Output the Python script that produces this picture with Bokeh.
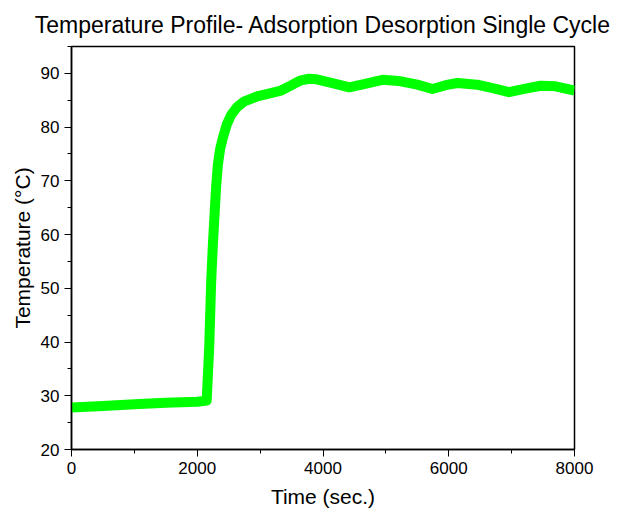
from bokeh.plotting import figure
from bokeh.models import Range1d, FixedTicker
from bokeh.embed import file_html
from bokeh.resources import INLINE

time_s = [0, 500, 1000, 1500, 2000, 2150, 2190, 2222, 2250, 2275, 2300, 2328, 2365, 2407, 2470,
          2540, 2640, 2751, 2950, 3122, 3333, 3450, 3545, 3650, 3778, 3900, 4150, 4418, 4650,
          4947, 5200, 5500, 5741, 5950, 6138, 6450, 6750, 6958, 7200, 7460, 7700, 8000]
temp_c = [27.8, 28.1, 28.4, 28.7, 28.9, 29.1, 39.0, 51.4, 58.5, 63.7, 68.8, 73.0, 76.0, 78.0, 80.5,
          82.3, 83.8, 84.8, 85.7, 86.2, 86.8, 87.5, 88.1, 88.7, 89.0, 88.9, 88.2, 87.4, 88.0,
          88.8, 88.6, 87.9, 87.1, 87.8, 88.2, 87.9, 87.1, 86.5, 87.1, 87.7, 87.6, 86.8]

x_ticks = [0, 2000, 4000, 6000, 8000]
y_ticks = [20, 30, 40, 50, 60, 70, 80, 90]

FONT = "Liberation Sans"

p = figure(width=622, height=514, output_backend="svg", toolbar_location=None,
           x_range=Range1d(0, 8000), y_range=Range1d(20, 95),
           title="Temperature Profile- Adsorption Desorption Single Cycle",
           min_border_left=71, min_border_right=48, min_border_top=46, min_border_bottom=65)

p.line(time_s, temp_c, line_color="#00FF00", line_width=10, line_join="round")

p.title.text_font = FONT
p.title.text_font_size = "23px"
p.title.text_font_style = "normal"
p.title.align = "center"
p.title.text_color = "black"
p.title.standoff = 18

p.grid.visible = False
p.outline_line_color = "black"
p.outline_line_width = 1.5

for ax in (p.xaxis, p.yaxis):
    ax.axis_line_color = "black"
    ax.axis_line_width = 1.5
    ax.major_tick_line_color = "black"
    ax.minor_tick_line_color = "black"
    ax.major_tick_out = 7
    ax.major_tick_in = 0
    ax.minor_tick_out = 4
    ax.minor_tick_in = 0
    ax.major_label_text_font = FONT
    ax.major_label_text_font_size = "17px"
    ax.major_label_text_color = "black"
    ax.axis_label_text_font = FONT
    ax.axis_label_text_font_size = "21px"
    ax.axis_label_text_font_style = "normal"
    ax.axis_label_text_color = "black"

p.xaxis.ticker = FixedTicker(ticks=x_ticks, minor_ticks=[1000, 3000, 5000, 7000])
p.yaxis.ticker = FixedTicker(ticks=y_ticks, minor_ticks=[25, 35, 45, 55, 65, 75, 85, 95])
p.xaxis.axis_label = "Time (sec.)"
p.yaxis.axis_label = "Temperature (°C)"
p.xaxis.axis_label_standoff = 8
p.yaxis.axis_label_standoff = 4

open("out.html", "w").write(file_html(p, INLINE))
